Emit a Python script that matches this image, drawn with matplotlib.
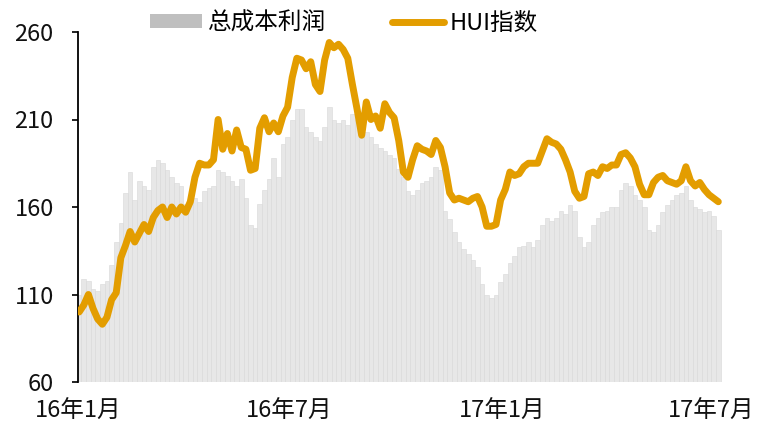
import numpy as np
import pandas as pd
import matplotlib
matplotlib.use("Agg")
from matplotlib import pyplot as plt
from matplotlib.patches import Patch
from matplotlib.lines import Line2D

plt.rcParams['font.family'] = ['Noto Sans CJK SC', 'DejaVu Sans']

# sampled every 4 days from 2016-01-02
dates = pd.date_range('2016-01-02', periods=139, freq='4D')

hui = [100, 104, 110, 102, 96, 93, 97, 107, 111, 131,
       138, 146, 140, 145, 150, 146, 154, 158, 160, 154,
       160, 156, 160, 157, 163, 177, 185, 184, 184, 187,
       210, 193, 202, 192, 204, 194, 193, 181, 182, 205,
       211, 203, 208, 203, 212, 217, 234, 245, 244, 239,
       243, 230, 226, 244, 254, 251, 253, 250, 245, 230,
       216, 201, 220, 210, 212, 205, 219, 214, 211, 198,
       180, 177, 187, 195, 193, 192, 190, 198, 194, 183,
       168, 164, 165, 164, 163, 165, 166, 160, 149, 149,
       150, 164, 170, 180, 178, 179, 183, 185, 185, 185,
       192, 199, 197, 196, 193, 187, 180, 169, 165, 166,
       179, 180, 178, 183, 182, 184, 184, 190, 191, 188,
       183, 173, 167, 167, 174, 177, 178, 175, 174, 173,
       175, 183, 175, 172, 174, 170, 167, 165, 163]

profit = [110, 119, 118, 113, 112, 116, 118, 127, 140, 151,
          168, 180, 164, 175, 172, 170, 183, 187, 185, 181,
          177, 174, 172, 162, 164, 165, 163, 169, 171, 172,
          181, 180, 178, 175, 172, 176, 165, 150, 148, 162,
          170, 176, 188, 177, 196, 200, 210, 216, 216, 206,
          203, 200, 198, 206, 217, 210, 208, 210, 207, 213,
          210, 200, 203, 200, 196, 194, 192, 190, 188, 182,
          177, 169, 167, 170, 174, 175, 177, 183, 181, 158,
          153, 146, 140, 136, 133, 130, 126, 116, 110, 108,
          110, 117, 122, 128, 132, 137, 138, 140, 137, 141,
          150, 154, 152, 154, 158, 156, 161, 158, 143, 137,
          140, 150, 154, 157, 158, 160, 160, 170, 174, 172,
          167, 164, 160, 147, 146, 150, 157, 161, 164, 167,
          168, 172, 164, 160, 159, 157, 158, 155, 147]

tick_dates = pd.to_datetime(['2016-01-01', '2016-07-01', '2017-01-01', '2017-07-01'])
tick_labels = ['16年1月', '16年7月', '17年1月', '17年7月']

fig = plt.figure(figsize=(7.59, 4.26), dpi=100)
ax = fig.add_axes([78 / 759, 44 / 426, 660 / 759, 350 / 426])

ax.bar(dates, np.array(profit) - 60, bottom=60, width=4,
       color='#e7e7e7', edgecolor='#d8d8d8', linewidth=0.4, zorder=1)
ax.plot(dates, hui, color='#E39D00', linewidth=5,
        solid_joinstyle='round', solid_capstyle='round', zorder=3)

ax.set_ylim(60, 260)
ax.set_yticks([60, 110, 160, 210, 260])
ax.set_xlim(pd.Timestamp('2016-01-01'), pd.Timestamp('2016-01-01') + pd.Timedelta(days=570))
ax.set_xticks(tick_dates)
ax.set_xticklabels(tick_labels)

for s in ['top', 'right', 'bottom']:
    ax.spines[s].set_visible(False)
ax.spines['left'].set_linewidth(1.3)
ax.tick_params(axis='y', length=4.5, width=1.3, pad=13, labelsize=17, colors='#111111')
ax.tick_params(axis='x', length=0, pad=13, labelsize=17, colors='#111111')

handles = [Patch(facecolor='#bfbfbf', edgecolor='none'),
           Line2D([0], [0], color='#E39D00', linewidth=5, solid_capstyle='round')]
fig.legend(handles, ['总成本利润', 'HUI指数'], loc='center', bbox_to_anchor=(0.453, 0.946),
           ncol=2, frameon=False, fontsize=17, handlelength=2.2, handleheight=0.55,
           handletextpad=0.25, columnspacing=2.8)

fig.savefig('out.png', dpi=100)
